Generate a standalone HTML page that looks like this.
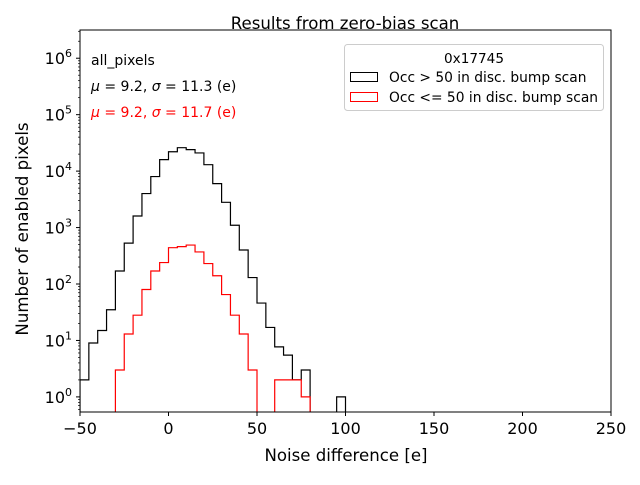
<!DOCTYPE html>
<html><head><meta charset="utf-8"><style>
body{margin:0;background:#fff;}
svg{font-family:"DejaVu Sans","Liberation Sans",sans-serif;}
</style></head><body>
<svg id="c" width="640" height="480" viewBox="0 0 640 480" xmlns="http://www.w3.org/2000/svg">
<rect width="640" height="480" fill="#fff"/>
<text x="345" y="29" text-anchor="middle" font-size="16.6">Results from zero-bias scan</text>
<g id="marks"></g>
<rect x="80" y="30" width="531" height="382" fill="none" stroke="#000" stroke-width="1"/>
<g id="xt"></g><g id="yt"></g>
<text x="346" y="461" text-anchor="middle" font-size="16.6">Noise difference [e]</text>
<text transform="translate(28,229) rotate(-90)" text-anchor="middle" font-size="16.6">Number of enabled pixels</text>
<text x="91" y="65" font-size="14">all_pixels</text>
<text x="91" y="91" font-size="14"><tspan font-style="italic">μ</tspan> = 9.2, <tspan font-style="italic">σ</tspan> = 11.3 (e)</text>
<text x="91" y="117" font-size="14" fill="#ff0000"><tspan font-style="italic">μ</tspan> = 9.2, <tspan font-style="italic">σ</tspan> = 11.7 (e)</text>
<g>
<rect x="344.5" y="44.5" width="259" height="66" rx="3" fill="#fff" stroke="#ccc"/>
<text x="474" y="63" text-anchor="middle" font-size="13.6">0x17745</text>
<rect x="350.5" y="72.5" width="27" height="9" fill="none" stroke="#000"/>
<text x="389" y="82" font-size="13.8">Occ &gt; 50 in disc. bump scan</text>
<rect x="350.5" y="92.5" width="27" height="9" fill="none" stroke="#ff0000"/>
<text x="389" y="102" font-size="13.8">Occ &lt;= 50 in disc. bump scan</text>
</g>
</svg>
<script>
const binStart=-50, binWidth=5;
const blackCounts=[2,9,15,35,170,530,1600,4000,8000,16000,22000,26000,24000,21000,13000,6000,2800,1100,400,130,46,17,7.7,5.5,2,3,0,0,0,1];
const redCounts=[0,0,0,0,3,13,28,80,170,240,440,460,490,370,230,140,65,28,13,3,0,0,2,2,2,1];
const xTicks=[-50,0,50,100,150,200,250];
const yTicks=[0,1,2,3,4,5,6];
const X0=80,X1=611,Y0=412,Y1=30,xmin=-50,xmax=250,lmin=Math.log10(0.54),lmax=6.5;
function xs(v){return X0+(v-xmin)/(xmax-xmin)*(X1-X0);}
function ys(v){if(v<=0)return Y0+5;const y=Y0-(Math.log10(v)-lmin)/(lmax-lmin)*(Y0-Y1);return y;}
const NS="http://www.w3.org/2000/svg";
const svg=document.getElementById('c');
const marks=document.getElementById('marks');
const clip=document.createElementNS(NS,'clipPath');clip.setAttribute('id','cp');
const cr=document.createElementNS(NS,'rect');cr.setAttribute('x',X0);cr.setAttribute('y',Y1);cr.setAttribute('width',X1-X0);cr.setAttribute('height',Y0-Y1);
clip.appendChild(cr);svg.insertBefore(clip,svg.firstChild);
marks.setAttribute('clip-path','url(#cp)');
function step(counts,color,name){
  let d='M'+xs(binStart)+','+(Y0+5);
  counts.forEach((c,i)=>{const xa=xs(binStart+i*binWidth),xb=xs(binStart+(i+1)*binWidth),y=ys(c);d+=' L'+xa+','+y+' L'+xb+','+y;});
  d+=' L'+xs(binStart+counts.length*binWidth)+','+(Y0+5);
  const p=document.createElementNS(NS,'path');p.setAttribute('d',d);p.setAttribute('fill','none');p.setAttribute('stroke',color);p.setAttribute('stroke-width','1.2');
  
  
  marks.appendChild(p);
}
step(blackCounts,'#000','histogram-occ-gt-50');
step(redCounts,'#ff0000','histogram-occ-le-50');
const xt=document.getElementById('xt');
xTicks.forEach(v=>{const x=xs(v);
  const l=document.createElementNS(NS,'line');l.setAttribute('x1',x);l.setAttribute('x2',x);l.setAttribute('y1',Y0);l.setAttribute('y2',Y0+4);l.setAttribute('stroke','#000');
  
  
  xt.appendChild(l);
  const t=document.createElementNS(NS,'text');t.setAttribute('x',x);t.setAttribute('y',Y0+22);t.setAttribute('text-anchor','middle');t.setAttribute('font-size','16');t.textContent=(v<0?'\u2212'+(-v):v);
  
  
  xt.appendChild(t);});
const yt=document.getElementById('yt');
yTicks.forEach(e=>{const y=ys(Math.pow(10,e));
  const l=document.createElementNS(NS,'line');l.setAttribute('x1',X0-4);l.setAttribute('x2',X0);l.setAttribute('y1',y);l.setAttribute('y2',y);l.setAttribute('stroke','#000');
  
  
  yt.appendChild(l);
  for(let k=2;k<10;k++){const ym=ys(k*Math.pow(10,e));if(ym<Y1)continue;
    const m=document.createElementNS(NS,'line');m.setAttribute('x1',X0-2);m.setAttribute('x2',X0);m.setAttribute('y1',ym);m.setAttribute('y2',ym);m.setAttribute('stroke','#000');m.setAttribute('stroke-width','0.7');
    
    
    yt.appendChild(m);}
  const t=document.createElementNS(NS,'text');t.setAttribute('x',X0-8);t.setAttribute('y',y+6);t.setAttribute('text-anchor','end');t.setAttribute('font-size','16');
  t.innerHTML='10<tspan dy="-7" font-size="11">'+e+'</tspan>';
  
  
  yt.appendChild(t);});
for(let k=2;k<10;k++){const ym=ys(k*0.1);if(ym>Y0)continue;const m=document.createElementNS(NS,'line');m.setAttribute('x1',X0-2);m.setAttribute('x2',X0);m.setAttribute('y1',ym);m.setAttribute('y2',ym);m.setAttribute('stroke','#000');m.setAttribute('stroke-width','0.7');
  
  
  yt.appendChild(m);}
</script>
</body></html>
